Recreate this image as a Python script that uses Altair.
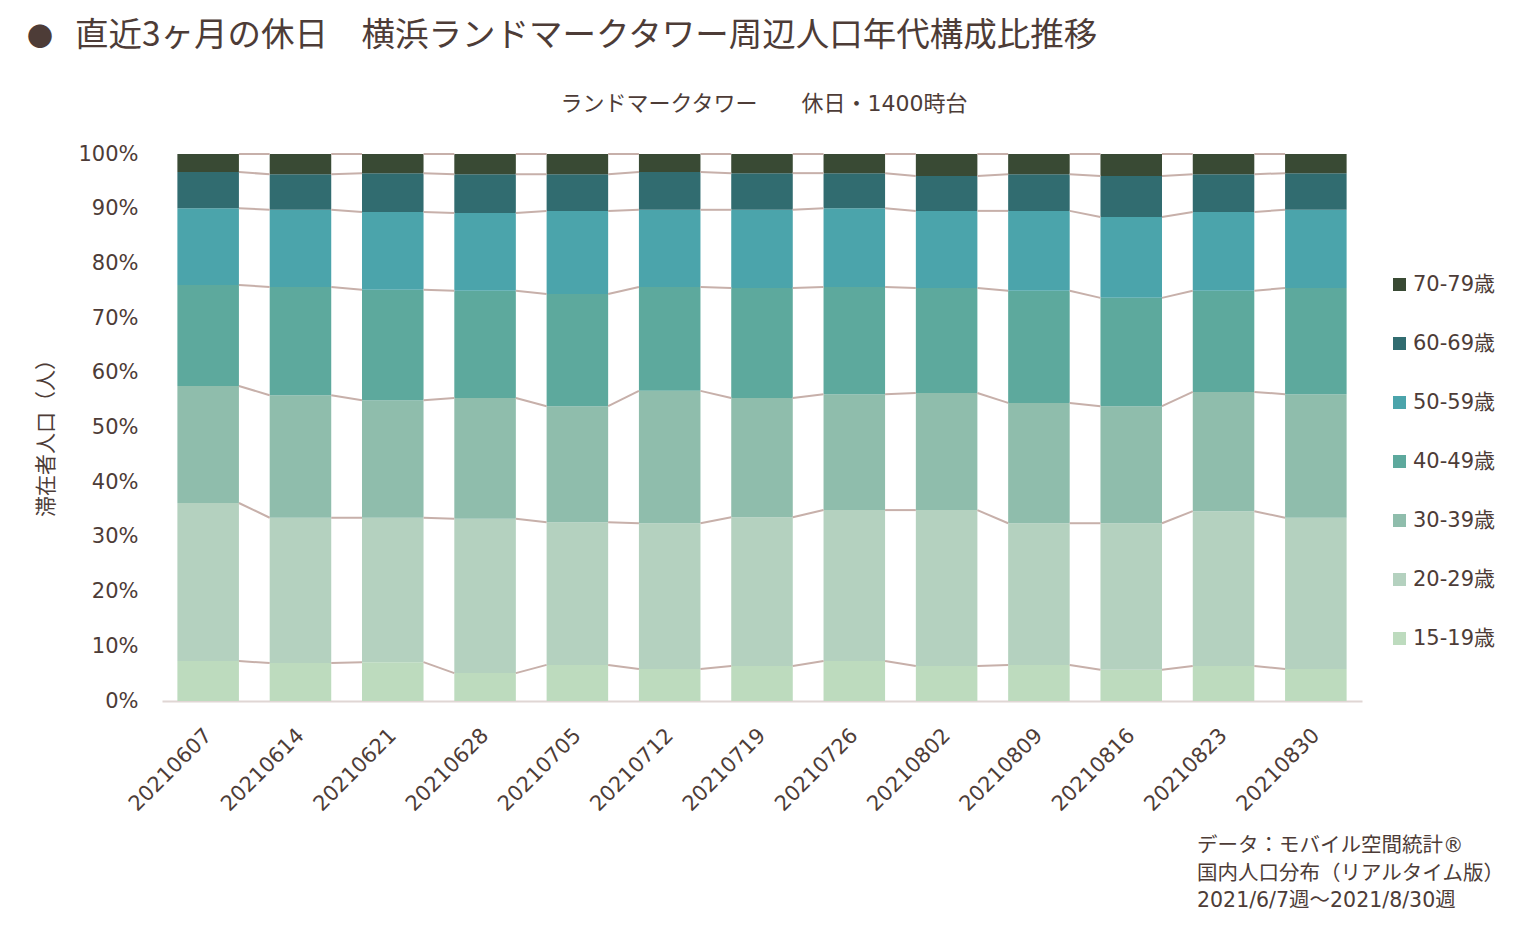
import altair as alt
import pandas as pd

# Weekly holiday composition (share of visitors, %) by age band
weeks = ["20210607", "20210614", "20210621", "20210628", "20210705", "20210712", "20210719",
         "20210726", "20210802", "20210809", "20210816", "20210823", "20210830"]
age_groups = ["15-19歳", "20-29歳", "30-39歳", "40-49歳", "50-59歳", "60-69歳", "70-79歳"]

share_15_19 = [7.3, 6.95, 7.1, 5.1, 6.6, 5.85, 6.4, 7.3, 6.4, 6.6, 5.7, 6.4, 5.85]
share_20_29 = [28.9, 26.55, 26.4, 28.2, 26.1, 26.65, 27.2, 27.6, 28.5, 25.9, 26.8, 28.3, 27.65]
share_30_39 = [21.4, 22.4, 21.5, 22.1, 21.2, 24.2, 21.8, 21.2, 21.4, 22.0, 21.4, 21.8, 22.6]
share_40_49 = [18.45, 19.8, 20.2, 19.6, 20.5, 19.0, 20.1, 19.6, 19.2, 20.5, 19.8, 18.5, 19.4]
share_50_59 = [14.05, 14.1, 14.2, 14.2, 15.2, 14.1, 14.3, 14.4, 14.1, 14.6, 14.8, 14.4, 14.3]
share_60_69 = [6.6, 6.5, 7.1, 7.1, 6.7, 6.9, 6.7, 6.4, 6.4, 6.7, 7.5, 6.9, 6.7]
share_70_79 = [3.3, 3.7, 3.5, 3.7, 3.7, 3.3, 3.5, 3.5, 4.0, 3.7, 4.0, 3.7, 3.5]

group_colors = ["#bddbbe", "#b4d1bf", "#8fbdac", "#5da99d", "#4ba4ab", "#316c70", "#394a34"]

title_text = "直近3ヶ月の休日　横浜ランドマークタワー周辺人口年代構成比推移"
subtitle_text = "ランドマークタワー　　休日・1400時台"
y_title_text = "滞在者人口（人）"
source_text = "データ：モバイル空間統計®\n国内人口分布（リアルタイム版）\n2021/6/7週～2021/8/30週"

TEXT_COLOR = "#4d3c37"
NUM_FONT = "DejaVu Sans, Noto Sans CJK JP"
JP_FONT = "Noto Sans CJK JP"
HALF_BAR = 1 / 3  # bar half-width in category units (gap width 50%)

series = [share_15_19, share_20_29, share_30_39, share_40_49, share_50_59, share_60_69, share_70_79]

# Stack the shares into bar segments
rows = []
tops = {}
for i, wk in enumerate(weeks):
    total = sum(s[i] for s in series)
    cum = 0.0
    for g, s in zip(age_groups, series):
        start = cum
        cum += s[i] / total
        rows.append({"week": wk, "group": g, "x0": i - HALF_BAR, "x1": i + HALF_BAR,
                     "y0": start, "y1": cum})
        tops.setdefault(g, []).append(cum)
bars_df = pd.DataFrame(rows)

# Series lines joining each segment boundary between neighbouring bars
line_rows = []
for g in age_groups:
    t = tops[g]
    for i in range(len(weeks) - 1):
        line_rows.append({"x0": i + HALF_BAR, "x1": i + 1 - HALF_BAR, "y0": t[i], "y1": t[i + 1]})
lines_df = pd.DataFrame(line_rows)

label_expr = "[" + ",".join(f"'{w}'" for w in weeks) + "][datum.value]"

x_scale = alt.Scale(domain=[-0.5, len(weeks) - 0.5], nice=False, zero=False)
y_scale = alt.Scale(domain=[0, 1], nice=False)

bars = alt.Chart(bars_df).mark_bar().encode(
    x=alt.X("x0:Q", scale=x_scale, title=None,
            axis=alt.Axis(values=list(range(len(weeks))), labelExpr=label_expr,
                          labelAngle=-45, labelAlign="right", labelBaseline="middle",
                          labelPadding=31, labelFontSize=21, labelFont=NUM_FONT,
                          labelColor=TEXT_COLOR, ticks=False, grid=False,
                          domainColor="#e0d6d4", domainWidth=2)),
    x2="x1:Q",
    y=alt.Y("y0:Q", scale=y_scale, title=None,
            axis=alt.Axis(values=[k / 10 for k in range(11)], format=".0%",
                          labelPadding=24, labelFontSize=21, labelFont=NUM_FONT,
                          labelColor=TEXT_COLOR, ticks=False, grid=False, domain=False)),
    y2="y1:Q",
    color=alt.Color("group:N",
                    scale=alt.Scale(domain=age_groups[::-1], range=group_colors[::-1]),
                    legend=alt.Legend(title=None, orient="none", legendX=1227, legendY=120,
                                      symbolType="square", symbolSize=169,
                                      symbolStrokeWidth=0, labelFontSize=21,
                                      labelFont=NUM_FONT, labelColor=TEXT_COLOR,
                                      rowPadding=37, labelOffset=3)),
    order=alt.Order("y0:Q"),
)

lines = alt.Chart(lines_df).mark_rule(color="#c7b0aa", strokeWidth=2).encode(
    x="x0:Q", x2="x1:Q", y="y0:Q", y2="y1:Q"
)

bullet = alt.Chart(pd.DataFrame({"t": ["●"]})).mark_text(
    font=JP_FONT, fontSize=26, color=TEXT_COLOR, align="center", baseline="middle"
).encode(text="t:N", x=alt.value(40 - 162), y=alt.value(38 - 154))

title = alt.Chart(pd.DataFrame({"t": [title_text]})).mark_text(
    font=JP_FONT, fontSize=33.5, color=TEXT_COLOR, align="left", baseline="middle"
).encode(text="t:N", x=alt.value(75 - 162), y=alt.value(36 - 154))

subtitle = alt.Chart(pd.DataFrame({"t": [subtitle_text]})).mark_text(
    font=NUM_FONT, fontSize=22, color=TEXT_COLOR, align="center", baseline="middle"
).encode(text="t:N", x=alt.value(764 - 162), y=alt.value(104 - 154))

y_title = alt.Chart(pd.DataFrame({"t": [y_title_text]})).mark_text(
    font=JP_FONT, fontSize=21, color=TEXT_COLOR, align="center", baseline="middle", angle=270
).encode(text="t:N", x=alt.value(47 - 162), y=alt.value(433 - 154))

source = alt.Chart(pd.DataFrame({"t": [source_text]})).mark_text(
    font=NUM_FONT, fontSize=20.5, color=TEXT_COLOR, align="left", baseline="top",
    lineBreak="\n", lineHeight=27.5
).encode(text="t:N", x=alt.value(1197 - 162), y=alt.value(836 - 154))

chart = alt.layer(bars, lines, bullet, title, subtitle, y_title, source).properties(
    width=1200, height=547,
    padding={"left": 162, "top": 154, "right": 164, "bottom": 229},
    autosize=alt.AutoSizeParams(type="none"),
    background="white",
).configure_view(stroke=None)

chart.save("out.html", embed_options={"renderer": "svg", "actions": False})
